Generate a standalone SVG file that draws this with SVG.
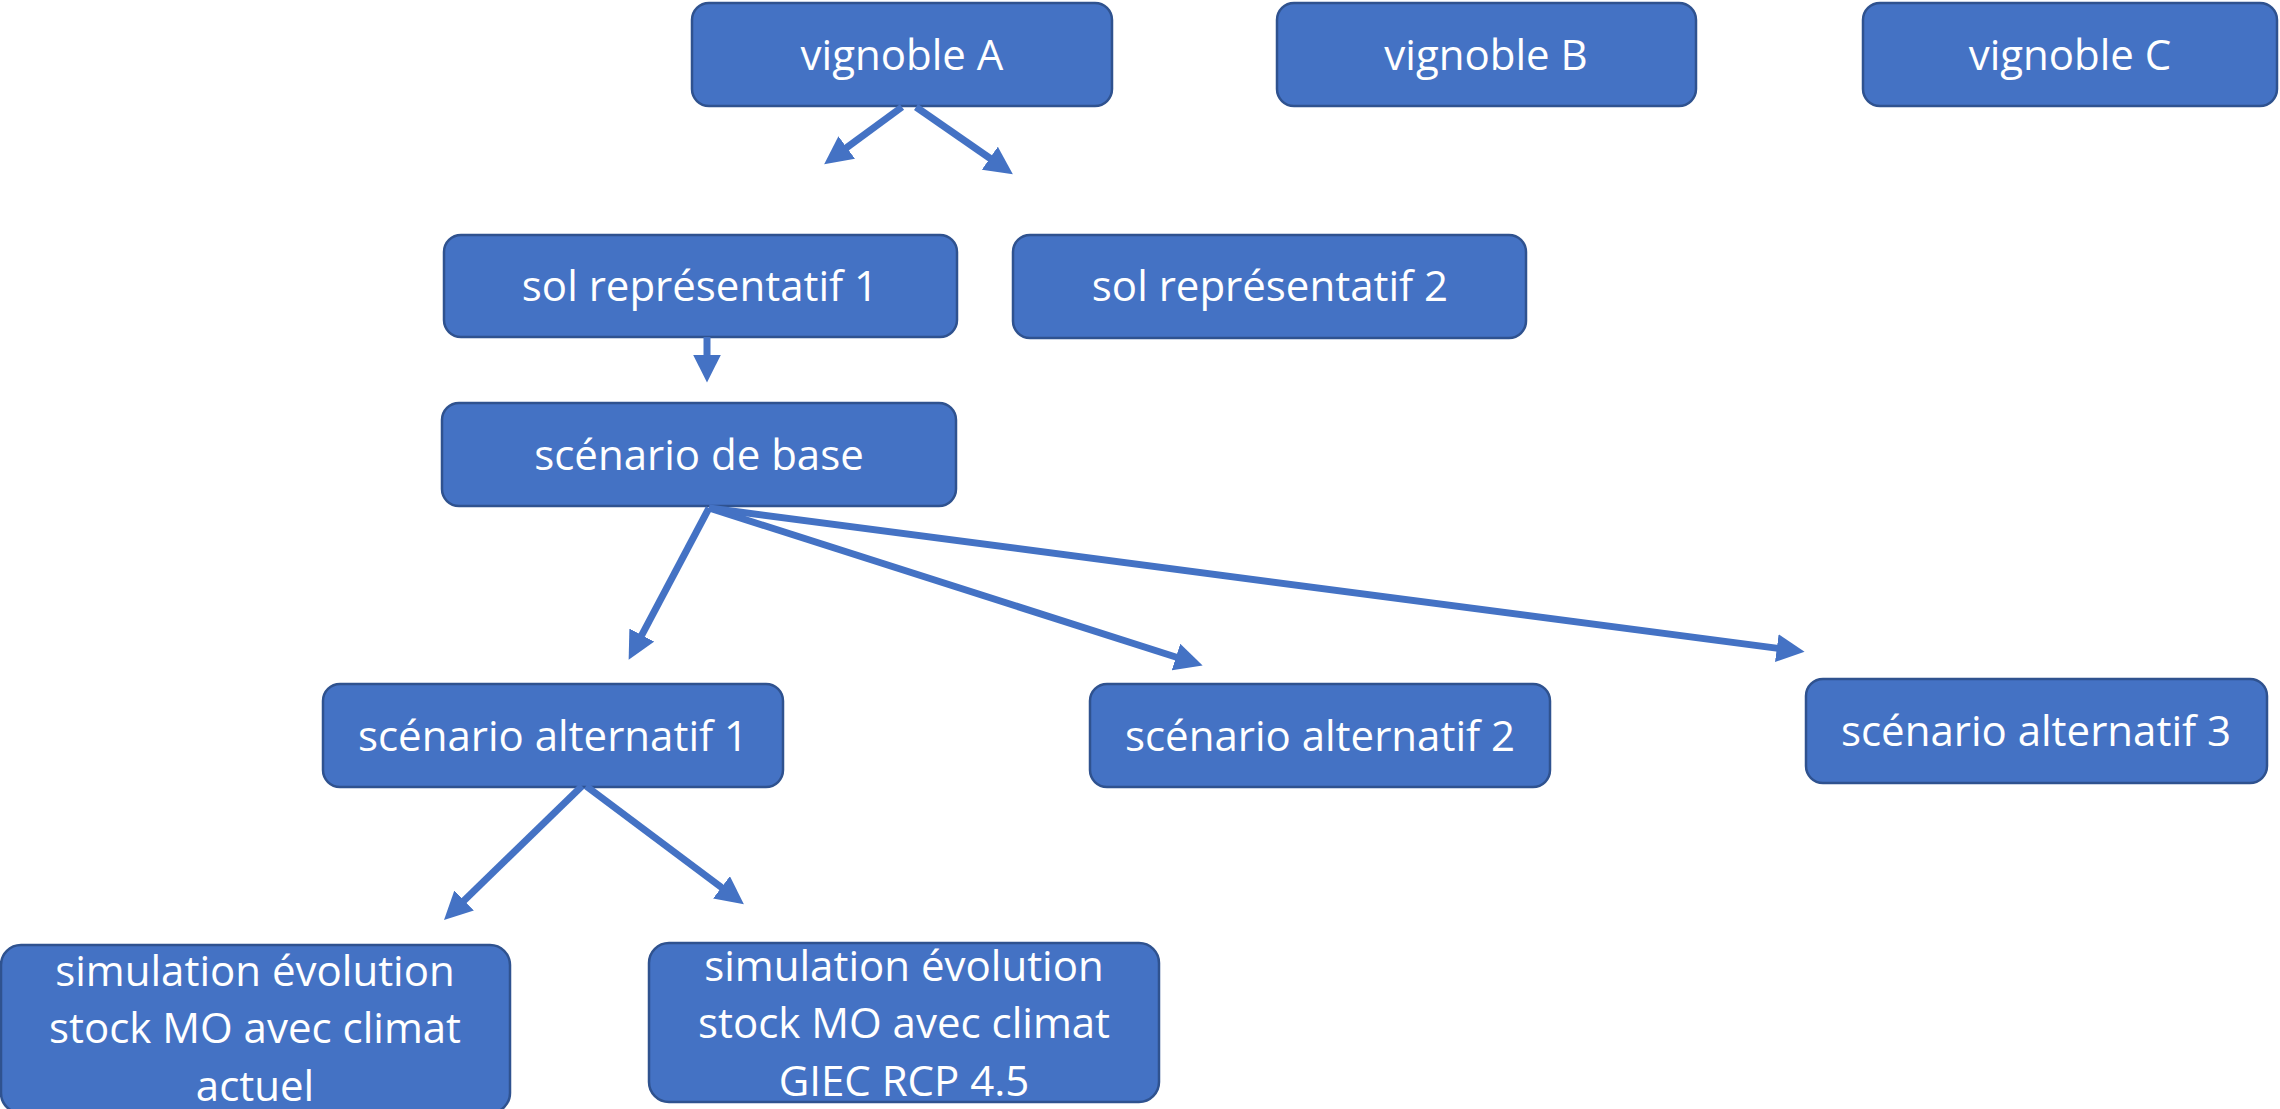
<svg xmlns="http://www.w3.org/2000/svg" width="2280" height="1109" viewBox="0 0 2280 1109">
<style>
.box{fill:#4472C4;stroke:#2F528F;stroke-width:2.5}
.t{fill:#fff;font-family:"Open Sans","Liberation Sans",sans-serif;font-size:42px;text-anchor:middle}
.c{stroke:#4472C4;stroke-width:7;fill:none;marker-end:url(#ah)}
</style>
<defs>
<marker id="ah" viewBox="0 0 10 10" refX="0.5" refY="5" markerWidth="4" markerHeight="4" orient="auto" markerUnits="strokeWidth">
<path d="M0,0 L10,5 L0,10 z" fill="#4472C4"/>
</marker>
</defs>
<rect width="2280" height="1109" fill="#fff"/>
<g id="vignobleA"><rect class="box" x="692" y="3" width="420" height="103" rx="17"/><text class="t" x="902" y="70">vignoble A</text></g>
<g id="vignobleB"><rect class="box" x="1277" y="3" width="419" height="103" rx="17"/><text class="t" x="1486" y="70">vignoble B</text></g>
<g id="vignobleC"><rect class="box" x="1863" y="3" width="414" height="103" rx="17"/><text class="t" x="2070" y="70">vignoble C</text></g>
<g id="sol1"><rect class="box" x="444" y="235" width="513" height="102" rx="17"/><text class="t" x="700" y="301">sol représentatif 1</text></g>
<g id="sol2"><rect class="box" x="1013" y="235" width="513" height="103" rx="17"/><text class="t" x="1270" y="301">sol représentatif 2</text></g>
<g id="base"><rect class="box" x="442" y="403" width="514" height="103" rx="17"/><text class="t" x="699" y="470">scénario de base</text></g>
<g id="alt1"><rect class="box" x="323" y="684" width="460" height="103" rx="17"/><text class="t" x="553" y="751">scénario alternatif 1</text></g>
<g id="alt2"><rect class="box" x="1090" y="684" width="460" height="103" rx="17"/><text class="t" x="1320" y="751">scénario alternatif 2</text></g>
<g id="alt3"><rect class="box" x="1806" y="679" width="461" height="104" rx="17"/><text class="t" x="2036" y="746">scénario alternatif 3</text></g>
<g id="sim1"><rect class="box" x="1" y="945" width="509" height="168" rx="20"/><text class="t" x="255" y="986">simulation évolution</text><text class="t" x="255" y="1043">stock MO avec climat</text><text class="t" x="255" y="1101">actuel</text></g>
<g id="sim2"><rect class="box" x="649" y="943" width="510" height="159" rx="20"/><text class="t" x="904" y="981">simulation évolution</text><text class="t" x="904" y="1038">stock MO avec climat</text><text class="t" x="904" y="1096">GIEC RCP 4.5</text></g>
<g id="connectors">
<line class="c" x1="902" y1="107" x2="845.6" y2="148.4"/>
<line class="c" x1="916" y1="107" x2="991" y2="159"/>
<line class="c" x1="707" y1="337" x2="707" y2="356"/>
<line class="c" x1="709" y1="508" x2="641.1" y2="636.3"/>
<line class="c" x1="709" y1="508" x2="1177.3" y2="657.5"/>
<line class="c" x1="709" y1="508" x2="1778.2" y2="648.4"/>
<line class="c" x1="582" y1="786" x2="463.1" y2="901.5"/>
<line class="c" x1="586" y1="786" x2="722.6" y2="888.2"/>
</g>
</svg>
